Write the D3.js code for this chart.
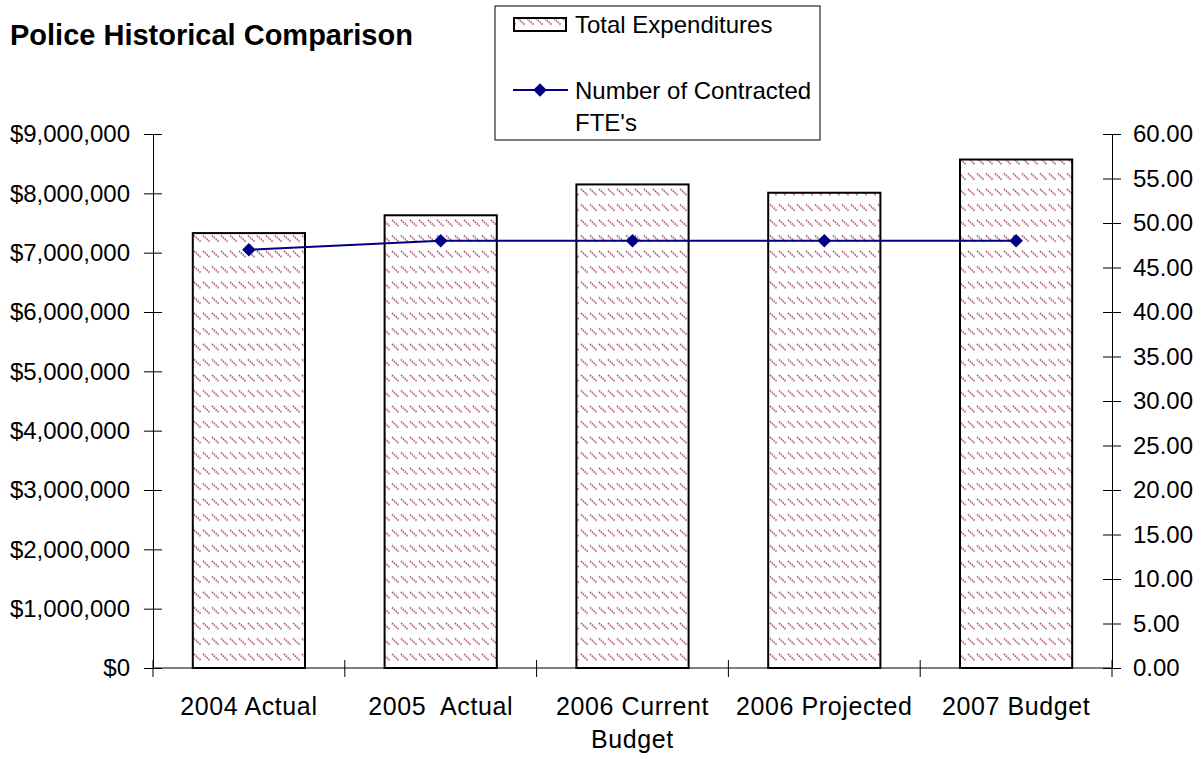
<!DOCTYPE html>
<html>
<head>
<meta charset="utf-8">
<script src="https://cdn.jsdelivr.net/npm/d3@7"></script>
<style>
  html, body { margin: 0; padding: 0; background: #fff; }
  svg { display: block; }
  text { font-family: "Liberation Sans", Arial, sans-serif; fill: #000; }
</style>
</head>
<body>
<svg id="chart" width="1202" height="757"></svg>
<script>
const categories = [["2004 Actual"], ["2005  Actual"], ["2006 Current", "Budget"], ["2006 Projected"], ["2007 Budget"]];
const expenditures = [7330000, 7630000, 8150000, 8010000, 8570000];
const ftes = [47, 48, 48, 48, 48];
const leftTicks = [0, 1000000, 2000000, 3000000, 4000000, 5000000, 6000000, 7000000, 8000000, 9000000];
const rightTicks = [0, 5, 10, 15, 20, 25, 30, 35, 40, 45, 50, 55, 60];
const titleText = "Police Historical Comparison";
const legendBar = "Total Expenditures";
const legendLine = ["Number of Contracted", "FTE's"];

const svg = d3.select("#chart");
const L = 153, R = 1112, T = 134, B = 668;

// pattern
const defs = svg.append("defs");
const pat = defs.append("pattern").attr("id", "hatch").attr("patternUnits", "userSpaceOnUse")
  .attr("width", 9).attr("height", 15.5).attr("x", 193).attr("y", 0);
pat.append("rect").attr("width", 9).attr("height", 15.5).attr("fill", "#fff");
pat.append("line").attr("x1", 1).attr("y1", 3).attr("x2", 7.5).attr("y2", 9)
  .attr("stroke", "#a63a7a").attr("stroke-width", 1.6).attr("stroke-dasharray", "1.5,1");

const ids = categories.map((c, i) => i);
const x = d3.scaleBand().domain(ids).range([L, R]).paddingInner(0.415).paddingOuter(0.2075);
const xb = d3.scaleBand().domain(ids).range([L, R]).padding(0);
const yL = d3.scaleLinear().domain([0, 9000000]).range([B, T]);
const yR = d3.scaleLinear().domain([0, 60]).range([B, T]);

// bars
svg.append("g").selectAll("rect").data(expenditures).join("rect")
  .attr("x", (d, i) => x(i)).attr("y", d => yL(d))
  .attr("width", x.bandwidth()).attr("height", d => B - yL(d))
  .attr("fill", "url(#hatch)").attr("stroke", "#000").attr("stroke-width", 2);

// left axis
const fmt = d => "$" + d3.format(",")(d);
const gL = svg.append("g").attr("transform", `translate(${L},0)`)
  .call(d3.axisLeft(yL).tickValues(leftTicks).tickFormat(fmt).tickSizeInner(9).tickSizeOuter(0).tickPadding(14));
gL.selectAll(".tick").append("line").attr("x1", 0).attr("x2", 9).attr("stroke", "#000");
gL.select(".domain").attr("stroke", "#000");
gL.selectAll("text").attr("font-size", 24).attr("font-family", "Liberation Sans, Arial, sans-serif").attr("fill", "#000");

// right axis
const gR = svg.append("g").attr("transform", `translate(${R},0)`)
  .call(d3.axisRight(yR).tickValues(rightTicks).tickFormat(d3.format(".2f")).tickSizeInner(9).tickSizeOuter(0).tickPadding(12));
gR.selectAll(".tick").append("line").attr("x1", 0).attr("x2", -9).attr("stroke", "#000");
gR.select(".domain").attr("stroke", "#000");
gR.selectAll("text").attr("font-size", 24).attr("font-family", "Liberation Sans, Arial, sans-serif").attr("fill", "#000");

// bottom axis
const boundaries = ids.map(i => xb(i)).concat([R]);
const gB = svg.append("g");
gB.append("line").attr("x1", L).attr("x2", R).attr("y1", B).attr("y2", B).attr("stroke", "#000");
gB.selectAll("line.t").data(boundaries).join("line").attr("class", "t")
  .attr("x1", d => d).attr("x2", d => d).attr("y1", B - 8).attr("y2", B + 9).attr("stroke", "#000");
const labels = gB.selectAll("text").data(categories).join("text")
  .attr("x", (d, i) => xb(i) + xb.bandwidth() / 2).attr("y", 715)
  .attr("text-anchor", "middle").attr("font-size", 25).attr("letter-spacing", 0.6).style("white-space", "pre");
labels.selectAll("tspan").data(d => d).join("tspan")
  .attr("x", function() { return this.parentNode.getAttribute("x"); })
  .attr("dy", (d, j) => j === 0 ? 0 : 33).text(d => d);

// line series
const line = d3.line().x((d, i) => xb(i) + xb.bandwidth() / 2).y(d => yR(d));
svg.append("path").datum(ftes).attr("d", line).attr("fill", "none").attr("stroke", "#000080").attr("stroke-width", 2);
const diamond = d3.symbol().type(d3.symbolSquare).size(92);
svg.append("g").selectAll("path").data(ftes).join("path")
  .attr("d", diamond())
  .attr("transform", (d, i) => `translate(${xb(i) + xb.bandwidth() / 2},${yR(d)}) rotate(45)`)
  .attr("fill", "#000080");

// title
svg.append("text").attr("x", 10).attr("y", 45).attr("font-size", 29).attr("font-weight", "bold").text(titleText);

// legend
const lg = svg.append("g");
lg.append("rect").attr("x", 495).attr("y", 6).attr("width", 325).attr("height", 134)
  .attr("fill", "#fff").attr("stroke", "#000").attr("stroke-width", 1);
lg.append("rect").attr("x", 514).attr("y", 18).attr("width", 52).attr("height", 13)
  .attr("fill", "url(#hatch)").attr("stroke", "#000").attr("stroke-width", 2);
lg.append("text").attr("x", 575).attr("y", 33).attr("font-size", 24).text(legendBar);
lg.append("line").attr("x1", 513).attr("x2", 568).attr("y1", 90).attr("y2", 90).attr("stroke", "#000080").attr("stroke-width", 2);
lg.append("path").attr("d", diamond()).attr("transform", "translate(540,90) rotate(45)").attr("fill", "#000080");
lg.append("text").attr("x", 575).attr("y", 99).attr("font-size", 24).text(legendLine[0]);
lg.append("text").attr("x", 575).attr("y", 131).attr("font-size", 24).text(legendLine[1]);
</script>
</body>
</html>
